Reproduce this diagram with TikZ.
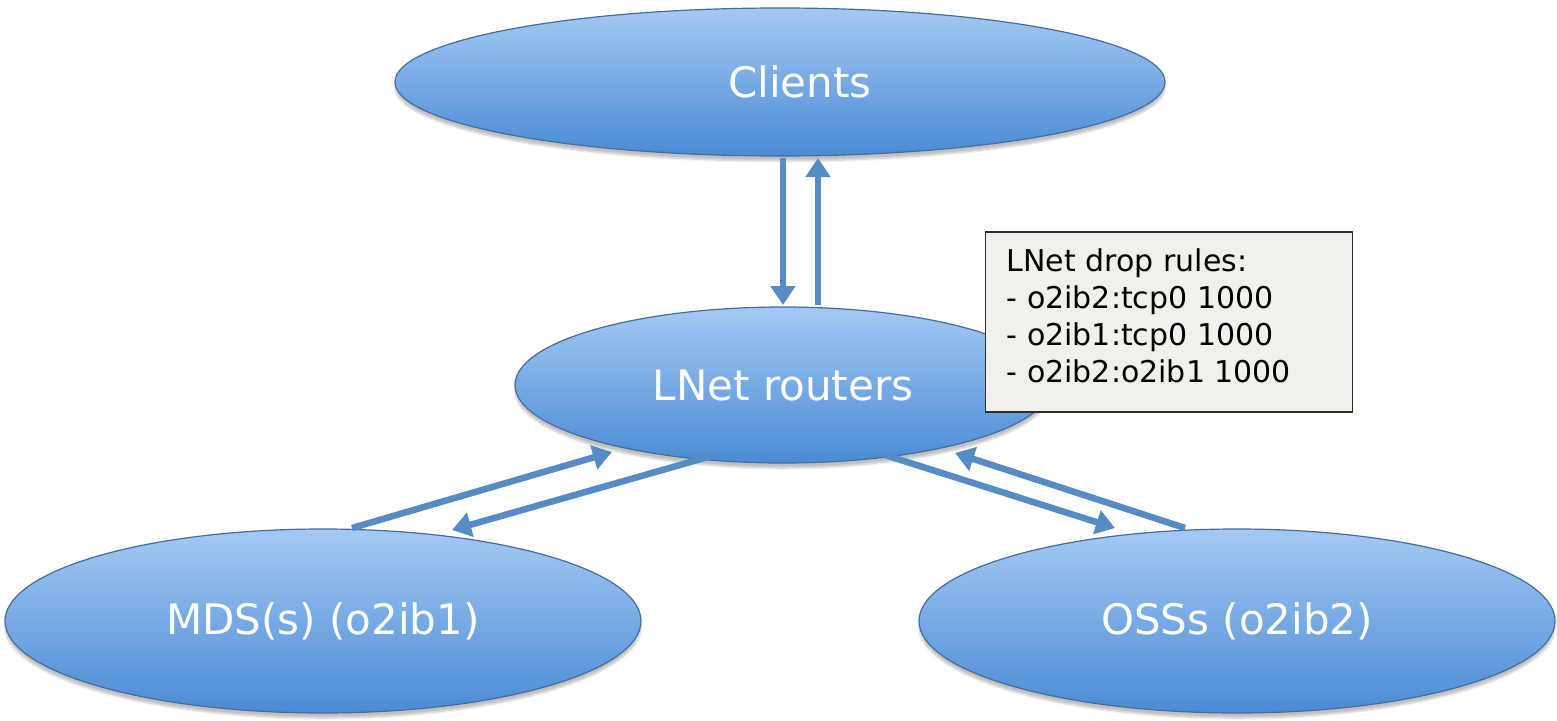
\documentclass[tikz,border=0pt]{standalone}
\usepackage{fontspec}
\setmainfont{DejaVu Sans}
\usetikzlibrary{shapes.geometric,arrows.meta,calc,shadows.blur}

\definecolor{ovaltop}{RGB}{164,201,243}
\definecolor{ovalbot}{RGB}{74,139,212}
\definecolor{ovalline}{RGB}{70,108,156}
\definecolor{linkblue}{RGB}{86,139,198}
\definecolor{notefill}{RGB}{242,240,235}
\definecolor{noteline}{RGB}{45,45,45}

\tikzset{
  oval/.style={ellipse, inner sep=0pt, draw=ovalline, line width=1.2pt,
    top color=ovaltop, bottom color=ovalbot, text=white,
    font=\fontsize{42}{50}\selectfont,
    blur shadow={shadow xshift=0pt, shadow yshift=-5pt, shadow blur steps=6, shadow opacity=25}},
  ovallabel/.style={text=white, inner sep=0pt, font=\fontsize{42}{50}\selectfont},
  link/.style={draw=linkblue, line width=6.5pt,
    -{Triangle[width=24pt,length=19pt]}},
  note/.style={rectangle, draw=noteline, line width=1.8pt, fill=notefill,
    minimum width=367pt, minimum height=180pt, inner sep=0pt},
  notetext/.style={anchor=north west, align=left, inner sep=0pt,
    font=\fontsize{30}{37}\selectfont, text=black},
}

\begin{document}
\begin{tikzpicture}[x=1pt,y=-1pt]
  \useasboundingbox (0,0) rectangle (1557,720);

  % network groups
  \node[oval, minimum width=770pt, minimum height=148pt] (clients) at (780,82) {};
  \node[ovallabel] (clientslabel) at ($(clients.center)+(20,0)$) {Clients};
  \node[oval, minimum width=536pt, minimum height=156pt] (lnet) at (783,385) {LNet routers};
  \node[oval, minimum width=636pt, minimum height=184pt] (mds) at (323,621) {MDS(s) (o2ib1)};
  \node[oval, minimum width=636pt, minimum height=184pt] (oss) at (1237,621) {OSSs (o2ib2)};

  % traffic between clients and routers
  \draw[link] ($(clients.center)+(3,76)$) -- ($(lnet.center)+(0,-80)$);
  \draw[link] ($(lnet.center)+(35,-80)$) -- ($(clients.center)+(38,76)$);

  % traffic between routers and the MDS network
  \draw[link] ($(mds.center)+(29,-93)$) -- ($(lnet.center)+(-171,67)$);
  \draw[link] ($(lnet.center)+(-68,70)$) -- ($(mds.center)+(129,-91)$);

  % traffic between routers and the OSS network
  \draw[link] ($(lnet.center)+(102,70)$) -- ($(oss.center)+(-122,-93)$);
  \draw[link] ($(oss.center)+(-52,-93)$) -- ($(lnet.center)+(172,68)$);

  % drop rule note
  \node[note] (rules) at (1169,322) {};
  \node[notetext] (rulestext) at ($(rules.north west)+(22,17)$)
    {LNet drop rules:\\- o2ib2:tcp0 1000\\- o2ib1:tcp0 1000\\- o2ib2:o2ib1 1000};
\end{tikzpicture}
\end{document}
